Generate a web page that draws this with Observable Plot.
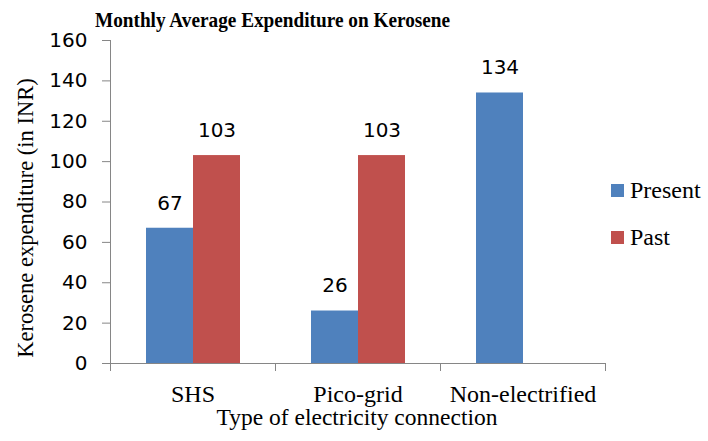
<!DOCTYPE html>
<html><head><meta charset="utf-8">
<script src="https://cdn.jsdelivr.net/npm/d3@7"></script>
<script src="https://cdn.jsdelivr.net/npm/@observablehq/plot@0.6"></script>
<style>
body{margin:0;background:#fff;}
#wrap{position:relative;width:708px;height:441px;overflow:hidden;}
.abs{position:absolute;white-space:nowrap;color:#000;}
#title{left:95px;top:9px;font:bold 22px/22px "Liberation Serif";transform:scaleX(0.875);transform-origin:0 0;}
#ytitle{left:26px;top:218px;transform:translate(-50%,-50%) rotate(-90deg);font:22.5px/22px "Liberation Serif";}
#xtitle{left:357px;top:406px;transform:translateX(-50%);font:23.5px/23px "Liberation Serif";}
#legend{left:611px;top:178px;font:24px/24px "Liberation Serif";}
.row{display:flex;align-items:center;height:24px;margin-bottom:23px;}
.sw{width:13px;height:13px;margin-right:6px;}
</style></head><body>
<div id="wrap"></div>
<script>
const categories = ["SHS", "Pico-grid", "Non-electrified"];
const series = ["Present", "Past"];
const presentValues = [67, 26, 134];
const pastValues = [103, 103, null];
const yTicks = [0, 20, 40, 60, 80, 100, 120, 140, 160];
const colors = ["#4F81BD", "#C0504D"];
const titleText = "Monthly Average Expenditure on Kerosene";
const yLabel = "Kerosene expenditure (in INR)";
const xLabel = "Type of electricity connection";

const data = [];
categories.forEach((c, i) => {
  if (presentValues[i] != null) data.push({cat: c, series: "Present", value: presentValues[i]});
  if (pastValues[i] != null) data.push({cat: c, series: "Past", value: pastValues[i]});
});

const axisGray = "#868686";
const plot = Plot.plot({
  width: 708, height: 441,
  marginLeft: 110, marginRight: 103, marginTop: 40, marginBottom: 78,
  style: {fontFamily: "DejaVu Sans", fontSize: "20px", color: "#000", background: "#fff"},
  fx: {domain: categories, padding: 0},
  x: {domain: series, paddingInner: 0, paddingOuter: 0.755, axis: null},
  y: {domain: [0, 160]},
  color: {domain: series, range: colors},
  marks: [
    Plot.axisY({ticks: yTicks, tickSize: 8, tickPadding: 15, stroke: axisGray, label: null, fontFamily: "DejaVu Sans", fontSize: 20}),
    Plot.axisFx({anchor: "bottom", tickSize: 0, tickPadding: 21, label: null, fontFamily: "Liberation Serif", fontSize: 24}),
    Plot.barY(data, {fx: "cat", x: "series", y: "value", fill: "series"}),
    Plot.ruleY([0], {stroke: axisGray}),
    Plot.text(data, {fx: "cat", x: "series", y: "value", text: d => String(d.value), dy: -25, fontFamily: "DejaVu Sans", fontSize: 20, fill: "#000"})
  ]
});

const wrap = document.getElementById("wrap");
wrap.appendChild(plot);

// axis line and category boundary ticks from the plot's scales
const fx = plot.scale("fx"), y = plot.scale("y");
const svg = d3.select(plot);
const g = svg.append("g").attr("stroke", axisGray).attr("stroke-width", 1);
const x0 = fx.apply(categories[0]);
g.append("line").attr("x1", x0 + 0.5).attr("x2", x0 + 0.5).attr("y1", y.apply(160)).attr("y2", y.apply(0));
const bounds = categories.map(c => fx.apply(c)).concat([fx.apply(categories[categories.length - 1]) + fx.bandwidth]);
bounds.forEach(b => g.append("line").attr("x1", b + 0.5).attr("x2", b + 0.5).attr("y1", y.apply(0)).attr("y2", y.apply(0) + 8));

function addDiv(id, text) {
  const d = document.createElement("div");
  d.id = id; d.className = "abs"; d.textContent = text;
  wrap.appendChild(d); return d;
}
addDiv("title", titleText);
addDiv("ytitle", yLabel);
addDiv("xtitle", xLabel);
const leg = addDiv("legend", "");
series.forEach((s, i) => {
  const r = document.createElement("div"); r.className = "row";
  const sw = document.createElement("div"); sw.className = "sw"; sw.style.background = colors[i];
  const t = document.createElement("span"); t.textContent = s;
  r.appendChild(sw); r.appendChild(t); leg.appendChild(r);
});
</script>
</body></html>
